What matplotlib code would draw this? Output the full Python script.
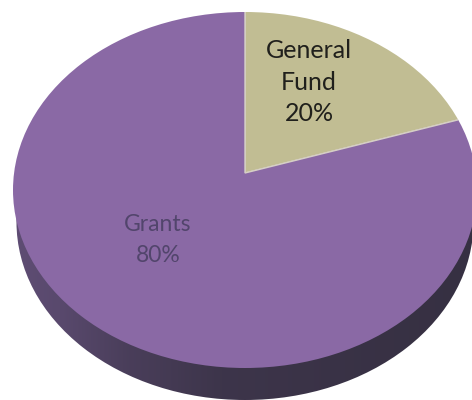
import numpy as np
import matplotlib
matplotlib.use("Agg")
import matplotlib.pyplot as plt
from matplotlib.patches import Circle, Ellipse

# Funding shares
categories = ["General\nFund", "Grants"]
shares = [20, 80]
slice_colors = ["#c1bd93", "#8a69a5"]
text_colors = ["#20201c", "#52456c"]

W, H = 472, 400
CX, CY, RX, RY = 245, 190, 232, 178   # pixel ellipse of the pie's top face
APEX_Y = 173                          # where the slices meet, seen in perspective
DEPTH = 32                            # height of the pie's side wall


def to_x(px):
    return (px - CX) / RX


def to_y(py):
    return (CY - py) / RY


fig = plt.figure(figsize=(W / 100, H / 100), dpi=100, facecolor="white")
ax = fig.add_axes([0, 0, 1, 1])

# Side wall: shaded band clipped to the top face moved downward
shade_x = np.array([0.0, 0.10, 0.25, 0.45, 0.75, 1.0])
shade_v = np.array([0.58, 0.50, 0.28, 0.10, 0.04, 0.0])
shade = np.interp(np.linspace(0, 1, 256), shade_x, shade_v)
dark = np.array([0x36, 0x30, 0x42]) / 255
light = np.array([0x7c, 0x62, 0x98]) / 255
band = (dark + shade[:, None] * (light - dark))[None, :, :]
img = ax.imshow(band, extent=(-1, 1, -1.3, 1), aspect="auto", zorder=1)
img.set_clip_path(Ellipse((0, to_y(CY + DEPTH)), 1.97, 2, transform=ax.transData))

# Top face: a large pie centred on the apex, trimmed to the ellipse
wedges, _ = ax.pie(
    shares,
    colors=slice_colors,
    startangle=90,
    counterclock=False,
    center=(0, to_y(APEX_Y)),
    radius=3,
    wedgeprops=dict(edgecolor="#d6cfc6", linewidth=1.0),
)
face = Circle((0, 0), 1, transform=ax.transData)
for w in wedges:
    w.set_zorder(2)
    w.set_clip_on(True)
    w.set_clip_path(face)

ax.set_aspect("auto")
ax.set_xlim(to_x(0), to_x(W))
ax.set_ylim(to_y(H), to_y(0))
ax.axis("off")

ax.text(to_x(309), to_y(82), f"{categories[0]}\n{shares[0]}%", ha="center", va="center",
        fontsize=18, family="Lato", color=text_colors[0], linespacing=1.46, zorder=3)
ax.text(to_x(158), to_y(240), f"{categories[1]}\n{shares[1]}%", ha="center", va="center",
        fontsize=16.5, family="Lato", color=text_colors[1], linespacing=1.55, zorder=3)

fig.savefig("out.png", dpi=100, facecolor="white")
